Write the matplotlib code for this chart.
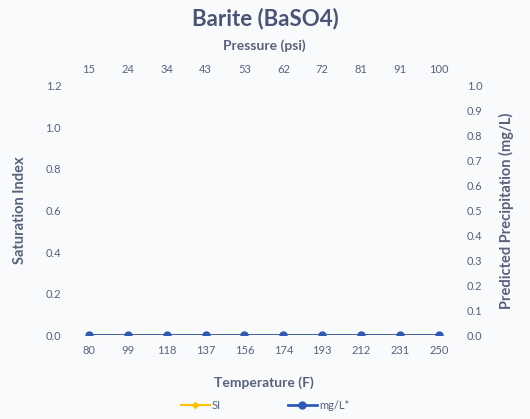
import matplotlib.pyplot as plt

# data
temperature = ["80", "99", "118", "137", "156", "174", "193", "212", "231", "250"]
pressure = ["15", "24", "34", "43", "53", "62", "72", "81", "91", "100"]
si = [0, 0, 0, 0, 0, 0, 0, 0, 0, 0]
mgl = [0, 0, 0, 0, 0, 0, 0, 0, 0, 0]

txt = "#59627d"
bg = "#f8fafc"
plt.rcParams['font.family'] = ['Lato', 'DejaVu Sans']

fig = plt.figure(figsize=(5.3, 4.19), dpi=100, facecolor=bg)
ax = fig.add_axes([0.131, 0.2, 0.734, 0.595])
ax.set_facecolor(bg)
x = list(range(len(temperature)))

ax.plot(x, si, color="#ffc000", marker="D", markersize=3, lw=1.5, label="SI", zorder=2)
ax.set_ylim(0, 1.2)
ax.set_yticks([0, 0.2, 0.4, 0.6, 0.8, 1.0, 1.2])
ax.set_yticklabels(["%.1f" % v for v in ax.get_yticks()])
ax.set_xlim(-0.5, len(x) - 0.5)
ax.set_xticks(x)
ax.set_xticklabels(temperature)
ax.set_ylabel("Saturation Index", color=txt, fontsize=10.5, fontweight="bold", labelpad=13)
ax.set_xlabel("Temperature (F)", color=txt, fontsize=10, fontweight="bold", labelpad=15)

ax2 = ax.twinx()
ax2.plot(x, mgl, color="#2f5bb5", marker="o", markersize=5, lw=2, label="mg/L*", zorder=3)
ax2.set_ylim(0, 1.0)
ax2.set_yticks([i / 10 for i in range(11)])
ax2.set_yticklabels(["%.1f" % (i / 10) for i in range(11)])
ax2.set_ylabel("Predicted Precipitation (mg/L)", color=txt, fontsize=10.5, fontweight="bold", labelpad=12)

ax3 = ax.twiny()
ax3.set_xlim(ax.get_xlim())
ax3.set_xticks(x)
ax3.set_xticklabels(pressure)
ax3.set_xlabel("Pressure (psi)", color=txt, fontsize=10, fontweight="bold", labelpad=10)

for a in (ax, ax2, ax3):
    for s in a.spines.values():
        s.set_visible(False)
    a.tick_params(length=0, labelsize=8, colors=txt, pad=6)
ax.tick_params(axis="x", pad=7)
ax3.tick_params(axis="x", pad=8)

fig.suptitle("Barite (BaSO4)", x=0.5, y=0.982, fontsize=16, fontweight="bold", color="#4a5474")

h1, l1 = ax.get_legend_handles_labels()
h2, l2 = ax2.get_legend_handles_labels()
fig.legend(h1 + h2, l1 + l2, loc="lower center", bbox_to_anchor=(0.5, -0.005), ncol=2,
           frameon=False, fontsize=8, labelcolor=txt, columnspacing=6, handlelength=2.6,
           handletextpad=0.2)

plt.savefig("out.png", dpi=100, facecolor=bg)
